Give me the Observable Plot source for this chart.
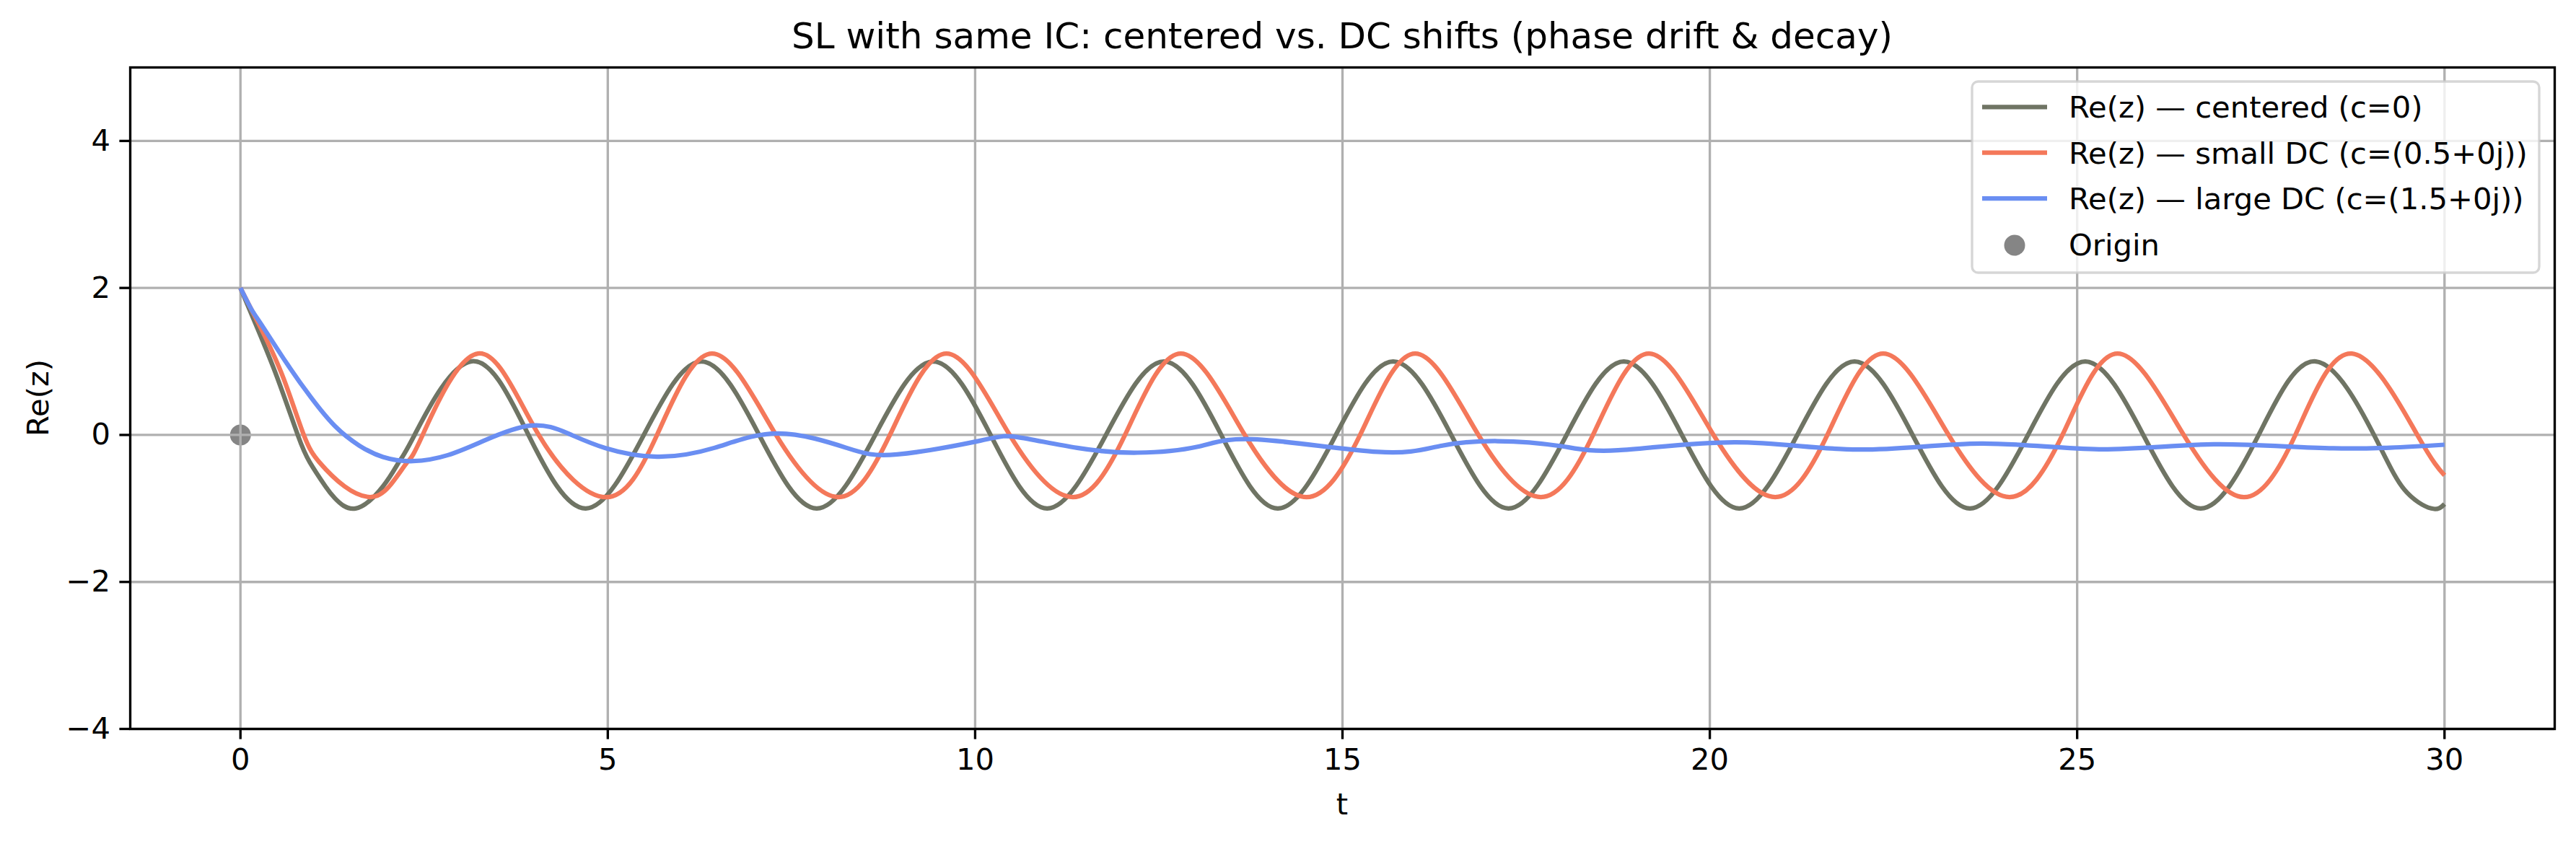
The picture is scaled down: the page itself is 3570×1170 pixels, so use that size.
<!DOCTYPE html>
<html>
<head>
<meta charset="utf-8">
<script src="https://cdn.jsdelivr.net/npm/d3@7"></script>
<script src="https://cdn.jsdelivr.net/npm/@observablehq/plot@0.6"></script>
<style>
  html, body { margin: 0; padding: 0; background: #ffffff; }
  #chart { width: 3570px; height: 1170px; }
</style>
</head>
<body>
<div id="chart"></div>
<script>
// ---------- text ----------
const chartTitle = "SL with same IC: centered vs. DC shifts (phase drift & decay)";
const xLabel = "t";
const yLabel = "Re(z)";

// ---------- axes ----------
const xDomain = [-1.5, 31.5];
const yDomain = [-4, 5];
const xTicks = [0, 5, 10, 15, 20, 25, 30];
const xTickLabels = ["0", "5", "10", "15", "20", "25", "30"];
const yTicks = [-4, -2, 0, 2, 4];
const yTickLabels = ["\u22124", "\u22122", "0", "2", "4"];

// ---------- series ----------
const seriesNames = [
  "Re(z) \u2014 centered (c=0)",
  "Re(z) \u2014 small DC (c=(0.5+0j))",
  "Re(z) \u2014 large DC (c=(1.5+0j))"
];
const seriesColors = ["#6f7464", "#f4785a", "#6a8ef2"];
const originName = "Origin";
const originColor = "#858585";

// centered (c = 0)
const tCentered = [0, 0.241, 0.503, 0.78, 0.944, 1.157, 1.287, 1.566, 1.94, 2.155,
  2.37, 3.135, 3.92, 4.70, 5.49, 6.274, 7.06, 7.844, 8.64, 9.43, 10.21, 10.98,
  11.78, 12.57, 13.35, 14.12, 14.91, 15.69, 16.48, 17.26, 18.05, 18.83, 19.62,
  20.40, 21.19, 21.97, 22.76, 23.54, 24.33, 25.11, 25.90, 26.68, 27.47, 28.25,
  29.04, 29.45, 29.82, 30.0];
const reCentered = [2, 1.428, 0.774, 0, -0.372, -0.70, -0.863, -1.0, -0.70, -0.372,
  0, 1.0, 0, -1.0, 0, 1.0, 0, -1.0, 0, 1.0, 0, -1.0,
  0, 1.0, 0, -1.0, 0, 1.0, 0, -1.0, 0, 1.0, 0,
  -1.0, 0, 1.0, 0, -1.0, 0, 1.0, 0, -1.0, 0, 1.0,
  0, -0.74, -1.0, -0.94];

// small DC (c = 0.5)
const tSmallDC = [0, 0.29, 0.585, 0.862, 1.075, 1.418, 1.762, 2.025, 2.27,
  2.48, 3.233, 4.06, 4.98, 5.67, 6.42, 7.29, 8.14, 8.84, 9.61, 10.47, 11.33,
  12.04, 12.80, 13.67, 14.51, 15.24, 15.99, 16.85, 17.70, 18.41, 19.17, 20.05,
  20.89, 21.60, 22.36, 23.25, 24.08, 24.80, 25.55, 26.45, 27.27, 27.97, 28.74,
  29.63, 30.0];
const reSmallDC = [2, 1.428, 0.774, 0, -0.372, -0.70, -0.845, -0.70, -0.372,
  0, 1.107, 0, -0.846, 0, 1.107, 0, -0.846, 0, 1.107, 0, -0.846,
  0, 1.107, 0, -0.846, 0, 1.107, 0, -0.846, 0, 1.107, 0,
  -0.846, 0, 1.107, 0, -0.846, 0, 1.107, 0, -0.846, 0, 1.107,
  0, -0.55];

// large DC (c = 1.5)
const tLargeDC = [0, 0.143, 0.306, 0.633, 0.96, 1.287, 1.615, 1.94, 2.35,
  2.824, 3.315, 3.95, 4.46, 4.97, 5.67, 6.45, 7.32, 8.25, 8.94, 10.07, 10.57,
  11.39, 12.21, 13.03, 13.84, 15.48, 16.33, 17.11, 17.96, 18.75, 20.35,
  22.02, 23.69, 25.3, 26.86, 28.49, 30];
const reLargeDC = [2, 1.72, 1.47, 0.97, 0.51, 0.119, -0.143, -0.30, -0.356,
  -0.274, -0.078, 0.128, 0.02, -0.18, -0.297, -0.176, 0.02, -0.176, -0.264, -0.078, -0.028,
  -0.176, -0.241, -0.16, -0.061, -0.231, -0.15, -0.084, -0.15, -0.209, -0.10,
  -0.199, -0.117, -0.195, -0.127, -0.182, -0.133];

// origin marker
const originT = [0];
const originRe = [0];

// ---------- layout (matplotlib 300 dpi look) ----------
const W = 3570, H = 1170;
const mL = 180, mR = 30, mT = 93, mB = 160;
const fontPx = 41.67;
const lw = 6.25;       // 1.5 pt
const thin = 3.33;     // 0.8 pt
const tickLen = 14.6;  // 3.5 pt
const FONT = "'DejaVu Sans', 'Liberation Sans', sans-serif";

const toRows = (ts, vs) => ts.map((t, i) => ({t, v: vs[i]}));
const seriesData = [
  toRows(tCentered, reCentered),
  toRows(tSmallDC, reSmallDC),
  toRows(tLargeDC, reLargeDC)
];
const originData = toRows(originT, originRe);

const svg = Plot.plot({
  width: W,
  height: H,
  marginLeft: mL,
  marginRight: mR,
  marginTop: mT,
  marginBottom: mB,
  style: {fontFamily: FONT, fontSize: fontPx + "px", background: "#ffffff", color: "#000000", overflow: "visible"},
  x: {domain: xDomain, label: null},
  y: {domain: yDomain, label: null},
  marks: [
    Plot.dot(originData, {x: "t", y: "v", r: 14.5, fill: originColor, stroke: "none"}),
    Plot.gridX(xTicks, {stroke: "#b0b0b0", strokeOpacity: 1, strokeWidth: thin}),
    Plot.gridY(yTicks, {stroke: "#b0b0b0", strokeOpacity: 1, strokeWidth: thin}),
    ...seriesData.map((d, i) => Plot.line(d, {
      x: "t", y: "v", stroke: seriesColors[i], strokeWidth: lw, curve: "natural",
      strokeLinejoin: "round", strokeLinecap: "butt"
    })),
    Plot.frame({stroke: "#000000", strokeWidth: thin}),
    Plot.axisX({
      ticks: xTicks, anchor: "bottom", tickSize: tickLen, tickPadding: 12,
      strokeWidth: thin, label: null,
      tickFormat: d => xTickLabels[xTicks.indexOf(d)]
    }),
    Plot.axisY({
      ticks: yTicks, anchor: "left", tickSize: tickLen, tickPadding: 13,
      strokeWidth: thin, label: null,
      tickFormat: d => yTickLabels[yTicks.indexOf(d)]
    })
  ]
});

const root = d3.select(svg);
const cx = (mL + (W - mR)) / 2;
const cy = (mT + (H - mB)) / 2;

// title
root.append("text")
  .attr("x", cx).attr("y", 67)
  .attr("text-anchor", "middle")
  .attr("font-family", FONT).attr("font-size", 50)
  .attr("fill", "#000")
  .text(chartTitle);

// x label
root.append("text")
  .attr("x", cx).attr("y", 1129)
  .attr("text-anchor", "middle")
  .attr("font-family", FONT).attr("font-size", fontPx)
  .attr("fill", "#000")
  .text(xLabel);

// y label
root.append("text")
  .attr("transform", `translate(67,${cy}) rotate(-90)`)
  .attr("text-anchor", "middle")
  .attr("font-family", FONT).attr("font-size", fontPx)
  .attr("fill", "#000")
  .text(yLabel);

// legend
const lg = root.append("g").attr("text-anchor", "start");
const boxX = 2733, boxY = 113, boxW = 3519 - 2733, boxH = 378 - 113;
lg.append("rect")
  .attr("x", boxX).attr("y", boxY).attr("width", boxW).attr("height", boxH)
  .attr("rx", 8.3).attr("ry", 8.3)
  .attr("fill", "#ffffff").attr("fill-opacity", 0.8)
  .attr("stroke", "#cccccc").attr("stroke-opacity", 0.8).attr("stroke-width", thin);
const rowY = [148.3, 211.7, 275, 338.7];
const hx0 = 2747, hx1 = 2837, tx = 2867;
seriesNames.forEach((name, i) => {
  lg.append("line")
    .attr("x1", hx0).attr("x2", hx1).attr("y1", rowY[i]).attr("y2", rowY[i])
    .attr("stroke", seriesColors[i]).attr("stroke-width", lw);
  lg.append("text")
    .attr("x", tx).attr("y", rowY[i] + 14.8)
    .attr("text-anchor", "start")
    .attr("font-family", FONT).attr("font-size", fontPx).attr("fill", "#000")
    .text(name);
});
lg.append("circle")
  .attr("cx", (hx0 + hx1) / 2).attr("cy", rowY[3] + 1.3).attr("r", 14.5)
  .attr("fill", originColor);
lg.append("text")
  .attr("x", tx).attr("y", rowY[3] + 14.8)
  .attr("text-anchor", "start")
  .attr("font-family", FONT).attr("font-size", fontPx).attr("fill", "#000")
  .text(originName);

document.getElementById("chart").appendChild(svg);
</script>
</body>
</html>
